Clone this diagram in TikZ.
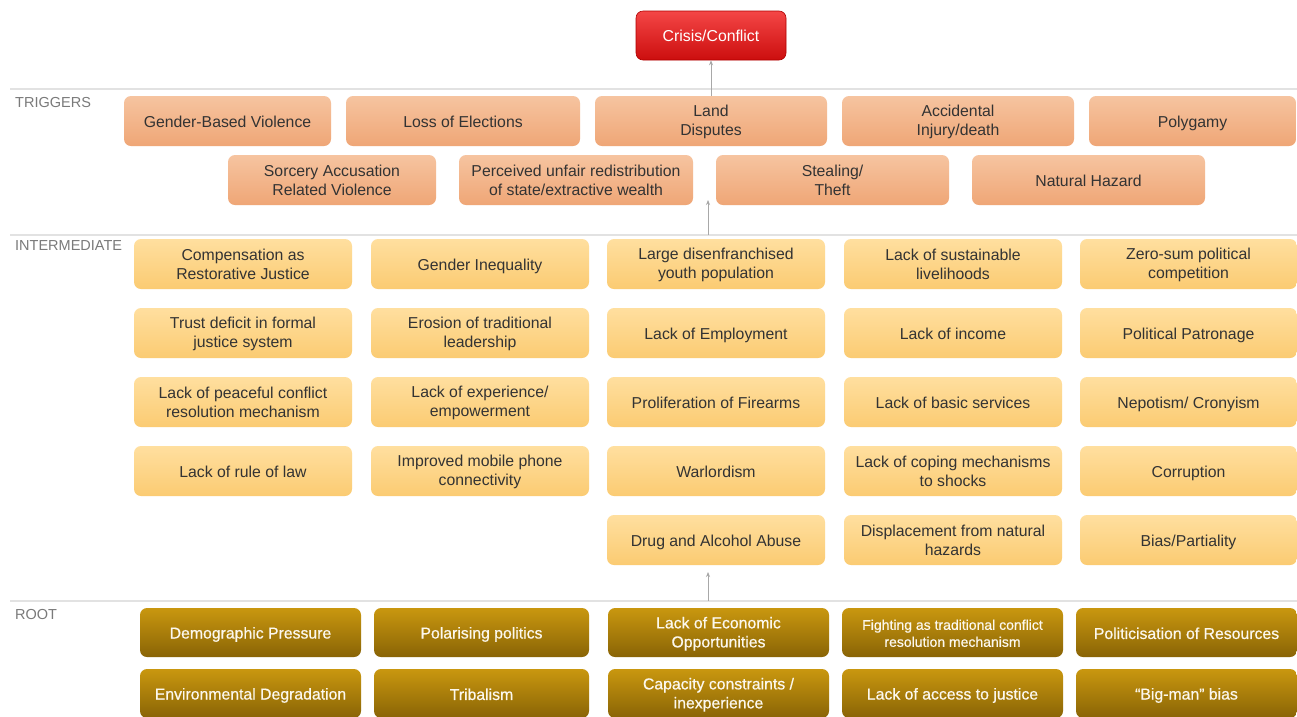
\documentclass[tikz,border=0pt]{standalone}
\usepackage{fontspec}
\setmainfont{Liberation Sans}
\newfontfamily\rootfont[FakeBold=0.6]{Liberation Sans}
\usetikzlibrary{arrows.meta}
\definecolor{trigT}{HTML}{F6C4A0}
\definecolor{trigB}{HTML}{EFA676}
\definecolor{intT}{HTML}{FFDF9F}
\definecolor{intB}{HTML}{FBCB72}
\definecolor{rootT}{HTML}{C9970F}
\definecolor{rootB}{HTML}{896406}
\definecolor{critT}{HTML}{F44646}
\definecolor{critB}{HTML}{CC0E0E}
\definecolor{critD}{HTML}{B00000}
\definecolor{txt}{HTML}{333333}
\definecolor{roottxt}{HTML}{FCF8EE}
\definecolor{lblgray}{HTML}{7A7A7A}
\definecolor{sepgray}{HTML}{E2E2E2}
\definecolor{arrgray}{HTML}{A8A8A8}
\newcommand\boxfs{\fontsize{15.8}{19}\selectfont}
\newcommand\smallfs{\fontsize{14}{17}\selectfont}
\newcommand\lblfs{\fontsize{14.5}{17}\selectfont}
\newcommand\topstrut{\rule{0pt}{15.3pt}}
\newcommand\botstrut{\rule[-2.4pt]{0pt}{2.4pt}}
\newcommand\tl[2]{\rule{0pt}{14pt}#1\\#2\rule[-2.4pt]{0pt}{2.4pt}}
\tikzset{
  box/.style={rounded corners=7pt, minimum height=50pt, inner sep=2pt, align=center, font=\boxfs, text=txt,
    execute at begin node=\topstrut, execute at end node=\botstrut},
  trig/.style={box, top color=trigT, bottom color=trigB},
  inter/.style={box, top color=intT, bottom color=intB},
  rootb/.style={box, top color=rootT, bottom color=rootB, text=roottxt, minimum height=49pt, font=\boxfs\rootfont},
  crisis/.style={box, top color=critT, bottom color=critB, draw=critD, line width=0.6pt, text=white, minimum height=49pt},
  lvl/.style={anchor=west, text=lblgray, font=\lblfs, inner sep=0pt},
  sep/.style={draw=sepgray, line width=1.6pt},
  conn/.style={draw=arrgray, line width=0.8pt, -{Stealth[length=5pt,width=4pt]}}
}
\begin{document}
\begin{tikzpicture}[x=1pt,y=-1pt]
\useasboundingbox (0,0) rectangle (1297,716);
\fill[white] (0,0) rectangle (1297,716);
\begin{scope}
\clip (0,0) rectangle (1297,716);
% separators
\coordinate (s1a) at (10,89); \coordinate (s1b) at (1297,89);
\coordinate (s2a) at (10,235); \coordinate (s2b) at (1297,235);
\coordinate (s3a) at (10,601); \coordinate (s3b) at (1297,601);
\draw[sep] (s1a) -- (s1b);
\draw[sep] (s2a) -- (s2b);
\draw[sep] (s3a) -- (s3b);
% level labels
\node[lvl] (lt) at (15,103) {TRIGGERS};
\node[lvl] (li) at (15,246) {INTERMEDIATE};
\node[lvl] (lr) at (15,614) {ROOT};
% crisis
\node[crisis, minimum width=150pt] (cc) at (711,35.5) {Crisis/Conflict};
% triggers row 1
\node[trig, minimum width=207pt] (t1) at (227.5,121) {Gender-Based Violence};
\node[trig, minimum width=234pt] (t2) at (463,121) {Loss of Elections};
\node[trig, minimum width=232pt] (t3) at (711,121) {\tl{Land}{Disputes}};
\node[trig, minimum width=232pt] (t4) at (958,121) {\tl{Accidental}{Injury/death}};
\node[trig, minimum width=207pt] (t5) at (1192.5,121) {Polygamy};
% triggers row 2
\node[trig, minimum width=208pt] (t6) at (332,180) {\tl{Sorcery Accusation}{Related Violence}};
\node[trig, minimum width=234pt] (t7) at (576,180) {\tl{Perceived unfair redistribution}{of state/extractive wealth}};
\node[trig, minimum width=233pt] (t8) at (832.5,180) {\tl{Stealing/}{Theft}};
\node[trig, minimum width=233pt] (t9) at (1088.5,180) {Natural Hazard};
% intermediate
\begin{scope}[every node/.style={inter, minimum width=218pt}]
\node (i11) at (243,264) {\tl{Compensation as}{Restorative Justice}};
\node (i12) at (243,333) {\tl{Trust deficit in formal}{justice system}};
\node (i13) at (243,402) {\tl{Lack of peaceful conflict}{resolution mechanism}};
\node (i14) at (243,471) {Lack of rule of law};
\node (i21) at (480,264) {Gender Inequality};
\node (i22) at (480,333) {\tl{Erosion of traditional}{leadership}};
\node (i23) at (480,402) {\tl{Lack of experience/}{empowerment}};
\node (i24) at (480,471) {\tl{Improved mobile phone}{connectivity}};
\node (i31) at (716,264) {\tl{Large disenfranchised}{youth population}};
\node (i32) at (716,333) {Lack of Employment};
\node (i33) at (716,402) {Proliferation of Firearms};
\node (i34) at (716,471) {Warlordism};
\node (i35) at (716,540) {Drug and Alcohol Abuse};
\node (i41) at (953,264) {\tl{Lack of sustainable}{livelihoods}};
\node (i42) at (953,333) {Lack of income};
\node (i43) at (953,402) {Lack of basic services};
\node (i44) at (953,471) {\tl{Lack of coping mechanisms}{to shocks}};
\node (i45) at (953,540) {\tl{Displacement from natural}{hazards}};
\node[minimum width=217pt] (i51) at (1188.5,264) {\tl{Zero-sum political}{competition}};
\node[minimum width=217pt] (i52) at (1188.5,333) {Political Patronage};
\node[minimum width=217pt] (i53) at (1188.5,402) {Nepotism/ Cronyism};
\node[minimum width=217pt] (i54) at (1188.5,471) {Corruption};
\node[minimum width=217pt] (i55) at (1188.5,540) {Bias/Partiality};
\end{scope}
% root
\begin{scope}[every node/.style={rootb}]
\node[minimum width=221pt] (r11) at (250.5,632.5) {Demographic Pressure};
\node[minimum width=215pt] (r21) at (481.5,632.5) {Polarising politics};
\node[minimum width=221pt] (r31) at (718.5,632.5) {\tl{Lack of Economic}{Opportunities}};
\node[minimum width=221pt, font=\smallfs\rootfont] (r41) at (952.5,632.5) {\tl{Fighting as traditional conflict}{resolution mechanism}};
\node[minimum width=221pt] (r51) at (1186.5,632.5) {Politicisation of Resources};
\node[minimum width=221pt] (r12) at (250.5,693.5) {Environmental Degradation};
\node[minimum width=215pt] (r22) at (481.5,693.5) {Tribalism};
\node[minimum width=221pt] (r32) at (718.5,693.5) {\tl{Capacity constraints /}{inexperience}};
\node[minimum width=221pt] (r42) at (952.5,693.5) {Lack of access to justice};
\node[minimum width=221pt] (r52) at (1186.5,693.5) {“Big-man” bias};
\end{scope}
% connectors
\draw[conn] (t3.north) -- (cc.south);
\coordinate (a2s) at (708,235); \coordinate (a2e) at (708,200);
\draw[conn] (a2s) -- (a2e);
\coordinate (a3s) at (708,601); \coordinate (a3e) at (708,572);
\draw[conn] (a3s) -- (a3e);
\end{scope}
\end{tikzpicture}
\end{document}
